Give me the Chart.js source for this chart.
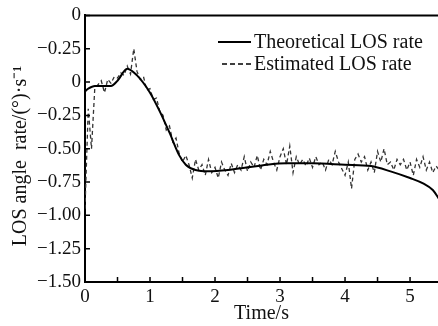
<!DOCTYPE html>
<html>
<head>
<meta charset="utf-8">
<script src="https://cdn.jsdelivr.net/npm/chart.js@4/dist/chart.umd.min.js"></script>
<style>
  html, body { margin: 0; padding: 0; background: #fff; }
  #wrap { width: 438px; height: 326px; position: relative; }
</style>
</head>
<body>
<div id="wrap"><canvas id="losChart"></canvas></div>
<script>
// Theoretical LOS rate (smooth curve)
const theoTime = [0, 0.05, 0.15, 0.4, 0.5, 0.65, 0.8, 1.0, 1.15, 1.3, 1.45, 1.55, 1.7, 1.9, 2.2, 2.5, 2.8, 3.1, 3.5, 4.0, 4.4, 4.7, 5.0, 5.2, 5.35, 5.45];
const theoRate = [-0.07, -0.05, -0.03, -0.03, 0.01, 0.10, 0.05, -0.08, -0.22, -0.38, -0.55, -0.62, -0.66, -0.67, -0.66, -0.64, -0.62, -0.61, -0.61, -0.62, -0.63, -0.67, -0.72, -0.76, -0.81, -0.88];

// Estimated LOS rate, sampled every 0.05 s from t = 0
const estStep = 0.05;
const estRate = [
  -0.95, -0.2, -0.5, -0.05, -0.02, 0.01, -0.08, 0.02, -0.01, 0.04,
  0.03, 0.07, 0.05, 0.12, 0.06, 0.25, 0.08, 0.02, 0.04, -0.06,
  -0.05, -0.13, -0.12, -0.22, -0.25, -0.36, -0.33, -0.45, -0.42, -0.54,
  -0.60, -0.55, -0.62, -0.72, -0.58, -0.66, -0.62, -0.70, -0.58, -0.68,
  -0.64, -0.72, -0.60, -0.66, -0.70, -0.61, -0.68, -0.62, -0.66, -0.56,
  -0.67, -0.60, -0.64, -0.55, -0.66, -0.58, -0.62, -0.52, -0.60, -0.66,
  -0.56, -0.50, -0.62, -0.48, -0.68, -0.56, -0.62, -0.58, -0.63, -0.57,
  -0.64, -0.56, -0.62, -0.60, -0.66, -0.58, -0.62, -0.52, -0.60, -0.65,
  -0.70, -0.60, -0.80, -0.58, -0.54, -0.60, -0.56, -0.66, -0.60, -0.68,
  -0.52, -0.60, -0.50, -0.62, -0.60, -0.66, -0.58, -0.62, -0.58, -0.66,
  -0.60, -0.70, -0.58, -0.64, -0.56, -0.66, -0.60, -0.68, -0.63, -0.66
];

// tick labels as printed in the figure (top to bottom)
const yTickLabels = ['0', '\u22120.25', '0', '\u22120.25', '\u22120.50', '\u22120.75', '\u22121.00', '\u22121.25', '\u22121.50'];
const xTickLabels = ['0', '1', '2', '3', '4', '5'];
const xTickValues = [0, 0.5, 1, 1.5, 2, 2.5, 3, 3.5, 4, 4.5, 5];

const legendLabels = ['Theoretical LOS rate', 'Estimated LOS rate'];

const serif = '"Liberation Serif", "Times New Roman", serif';

// inward ticks, top frame line, legend and y title
const decorPlugin = {
    id: 'decor',
    afterDraw(chart) {
        const ctx = chart.ctx;
        const area = chart.chartArea;
        const xs = chart.scales.x;
        const ys = chart.scales.y;
        ctx.save();
        ctx.strokeStyle = '#000';
        ctx.lineWidth = 1.5;
        ctx.beginPath();
        xs.ticks.forEach(t => {
            const px = xs.getPixelForValue(t.value);
            if (t.value === 0) return;
            ctx.moveTo(px, area.bottom);
            ctx.lineTo(px, area.bottom - 5);
        });
        ys.ticks.forEach(t => {
            const py = ys.getPixelForValue(t.value);
            ctx.moveTo(area.left, py);
            ctx.lineTo(area.left + 5, py);
        });
        ctx.stroke();

        // top frame
        ctx.lineWidth = 2;
        ctx.beginPath();
        ctx.moveTo(area.left, area.top);
        ctx.lineTo(area.right, area.top);
        ctx.stroke();

        // legend
        ctx.font = '20px ' + serif;
        ctx.fillStyle = '#111';
        ctx.textBaseline = 'middle';
        ctx.lineWidth = 2;
        ctx.beginPath();
        ctx.moveTo(218, 42);
        ctx.lineTo(251, 42);
        ctx.stroke();
        ctx.fillText(legendLabels[0], 254, 43);
        ctx.lineWidth = 1.4;
        ctx.setLineDash([5, 3]);
        ctx.beginPath();
        ctx.moveTo(222, 64);
        ctx.lineTo(252, 64);
        ctx.stroke();
        ctx.setLineDash([]);
        ctx.fillText(legendLabels[1], 254, 65);

        // y title
        ctx.translate(21, 156);
        ctx.rotate(-Math.PI / 2);
        ctx.textAlign = 'center';
        ctx.fillText('LOS angle  rate/(\u00b0)\u00b7s\u207b\u00b9', 0, 0);
        ctx.restore();
    }
};

const theoPoints = theoTime.map((t, i) => ({ x: t, y: theoRate[i] }));
const estPoints = estRate.map((v, i) => ({ x: +(i * estStep).toFixed(2), y: v }));

const ctx = document.getElementById('losChart').getContext('2d');
new Chart(ctx, {
    type: 'line',
    data: {
        datasets: [
            {
                label: legendLabels[0],
                data: theoPoints,
                borderColor: '#000',
                borderWidth: 2,
                pointRadius: 0,
                cubicInterpolationMode: 'monotone',
                fill: false
            },
            {
                label: legendLabels[1],
                data: estPoints,
                borderColor: '#333',
                borderWidth: 1.3,
                borderDash: [4, 3],
                pointRadius: 0,
                tension: 0,
                fill: false
            }
        ]
    },
    options: {
        responsive: true,
        maintainAspectRatio: false,
        animation: false,
        layout: { padding: { top: 15, right: 0, left: 0, bottom: 0 } },
        plugins: {
            legend: { display: false },
            tooltip: { enabled: false }
        },
        scales: {
            x: {
                type: 'linear',
                min: 0,
                max: 5.43,
                afterBuildTicks(scale) { scale.ticks = xTickValues.map(v => ({ value: v })); },
                afterFit(scale) { scale.height = 44; },
                grid: { display: false, drawTicks: false },
                border: { display: true, color: '#000', width: 2 },
                ticks: {
                    autoSkip: false,
                    maxRotation: 0,
                    padding: 4,
                    color: '#111',
                    font: { family: serif, size: 19 },
                    callback: v => Number.isInteger(v) ? xTickLabels[v] : ''
                },
                title: {
                    display: true,
                    text: 'Time/s',
                    color: '#111',
                    padding: { top: -2, bottom: 0 },
                    font: { family: serif, size: 20 }
                }
            },
            y: {
                min: -1.5,
                max: 0.5,
                afterFit(scale) { scale.width = 85; },
                grid: { display: false, drawTicks: false },
                border: { display: true, color: '#000', width: 2 },
                ticks: {
                    stepSize: 0.25,
                    autoSkip: false,
                    padding: 4,
                    color: '#111',
                    font: { family: serif, size: 19 },
                    callback: (v) => yTickLabels[Math.round((0.5 - v) / 0.25)]
                }
            }
        }
    },
    plugins: [decorPlugin]
});
</script>
</body>
</html>
